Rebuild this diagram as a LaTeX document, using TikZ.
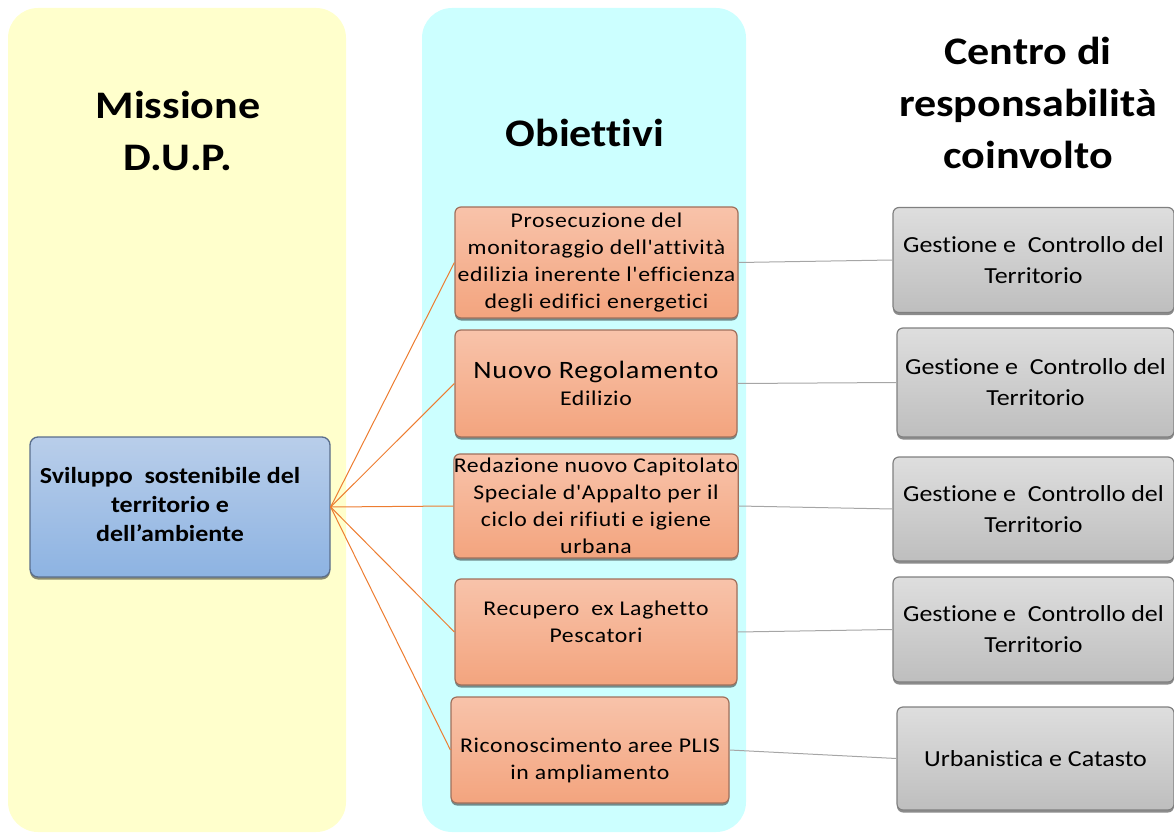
\documentclass[tikz,border=0pt]{standalone}
\usepackage{fontspec}
\setmainfont{Carlito}[FakeStretch=1.13,Ligatures={TeXOff,NoCommon}]
\newfontfamily\objfont{Carlito}[FakeStretch=1.13,LetterSpace=3,Ligatures={TeXOff,NoCommon}]
\usetikzlibrary{shadows}
\definecolor{panelyellow}{HTML}{FFFFCC}
\definecolor{panelcyan}{HTML}{CCFFFF}
\definecolor{linkorange}{HTML}{ED7D31}
\definecolor{linkgray}{HTML}{A6A6A6}
\definecolor{misstop}{HTML}{B9CEEA}
\definecolor{missbot}{HTML}{8DB3E2}
\definecolor{missline}{HTML}{5A6E8C}
\definecolor{objtop}{HTML}{F8C3AA}
\definecolor{objbot}{HTML}{F3A47E}
\definecolor{objline}{HTML}{A0705C}
\definecolor{crtop}{HTML}{DEDEDE}
\definecolor{crbot}{HTML}{BEBEBE}
\newcommand\boxlines[2]{\raisebox{#1}[0pt][0pt]{\begin{tabular}{@{}c@{}}#2\end{tabular}}}
\tikzset{
  head/.style={align=center,font=\fontsize{39}{52}\selectfont\bfseries},
  boxshadow/.style={drop shadow={shadow xshift=0pt,shadow yshift=-2.5pt,opacity=0.45,fill=black}},
  missbox/.style={draw=missline,line width=1.3pt,rounded corners=8pt,boxshadow,
    top color=misstop,bottom color=missbot,
    minimum width=300pt,minimum height=140pt,align=center,inner sep=0pt,
    font=\fontsize{23}{29}\selectfont\bfseries},
  objbox/.style={draw=objline,line width=1.2pt,rounded corners=6pt,boxshadow,
    top color=objtop,bottom color=objbot,
    minimum height=106pt,align=center,inner sep=0pt,
    font=\objfont\fontsize{21}{27}\selectfont},
  crbox/.style={draw=gray,line width=1.2pt,rounded corners=6pt,boxshadow,
    top color=crtop,bottom color=crbot,
    minimum width=280pt,minimum height=105pt,align=center,inner sep=0pt,
    font=\fontsize{23}{31}\selectfont},
  tolink/.style={linkorange,line width=1pt},
  crlink/.style={linkgray,line width=1pt}
}
\begin{document}
\begin{tikzpicture}[x=1pt,y=-1pt]
  \useasboundingbox (0,0) rectangle (1174,834);
  \fill[panelyellow,rounded corners=30pt] (8,8) rectangle (346,832);
  \fill[panelcyan,rounded corners=30pt] (422,8) rectangle (746,832);
  \node[head] (hmis) at (178,131) {Missione\\D.U.P.};
  \node[head] (hobj) at (585,133) {Obiettivi};
  \node[head] (hcr) at (1028,103) {Centro di\\responsabilità\\coinvolto};
  \node[missbox] (mis) at (180,507) {\begin{tabular}{@{}c@{}}Sviluppo\ \ sostenibile del\\territorio e\\dell’ambiente\end{tabular}\hspace{20pt}};
  \node[objbox,minimum width=283pt,minimum height=111pt] (o1) at (596.5,262.5) {Prosecuzione del\\monitoraggio dell'attività\\edilizia inerente l'efficienza\\degli edifici energetici};
  \node[objbox,minimum width=282pt,minimum height=107pt] (o2) at (596,383.5) {\fontsize{25}{31}\selectfont Nuovo Regolamento\\Edilizio};
  \node[objbox,minimum width=282pt,minimum height=104pt] (o3) at (596,506) {Redazione nuovo Capitolato\\Speciale d'Appalto per il\\ciclo dei rifiuti e igiene\\urbana};
  \node[objbox,minimum width=282pt] (o4) at (596,632) {\boxlines{3pt}{Recupero\ \ ex Laghetto\\Pescatori}};
  \node[objbox,minimum width=278pt] (o5) at (590,750) {\boxlines{-16pt}{Riconoscimento aree PLIS\\in ampliamento}};
  \node[crbox,minimum width=281pt] (g1) at (1033.5,260) {Gestione e\ \ Controllo del\\Territorio};
  \node[crbox,minimum width=277pt,minimum height=109pt] (g2) at (1035.5,382.5) {Gestione e\ \ Controllo del\\Territorio};
  \node[crbox,minimum width=281pt,minimum height=104pt] (g3) at (1033.5,509) {Gestione e\ \ Controllo del\\Territorio};
  \node[crbox,minimum width=281pt] (g4) at (1033.5,629.5) {Gestione e\ \ Controllo del\\Territorio};
  \node[crbox,minimum width=277pt,minimum height=103pt] (g5) at (1035.5,758.5) {Urbanistica e Catasto};
  \foreach \i in {1,...,5}{
    \draw[tolink] (mis.east) -- (o\i.west);
    \draw[crlink] (o\i.east) -- (g\i.west);
  }
\end{tikzpicture}
\end{document}
